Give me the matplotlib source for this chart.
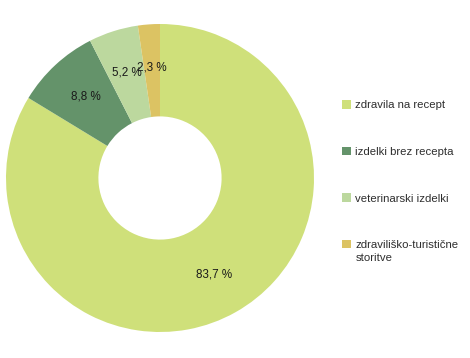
import numpy as np
import matplotlib.pyplot as plt
from matplotlib.patches import Patch, Rectangle
from matplotlib.legend_handler import HandlerPatch

categories = ["zdravila na recept", "izdelki brez recepta",
              "veterinarski izdelki", "zdraviliško-turistične\nstoritve"]
shares = [83.7, 8.8, 5.2, 2.3]
colors = ["#cfe07a", "#64936a", "#bcd89e", "#dcc363"]

plt.rcParams["font.family"] = ["Liberation Sans", "DejaVu Sans"]

fig = plt.figure(figsize=(4.70, 3.58), dpi=100)
ax = fig.add_axes([6 / 470, 26 / 358, 308 / 470, 308 / 358])

labels_txt = [f"{v:.1f} %".replace(".", ",") for v in shares]
wedges, _ = ax.pie(shares, colors=colors, startangle=90, counterclock=False,
                   radius=1, wedgeprops=dict(width=0.6, linewidth=0))

# value labels at 0.7 of the radius, middle angle of each wedge
for w, t in zip(wedges, labels_txt):
    ang = np.deg2rad((w.theta1 + w.theta2) / 2)
    ax.text(0.71 * np.cos(ang), 0.72 * np.sin(ang), t, ha="center",
            va="center", fontsize=8.4, color="#1a1a1a")

ax.set_xlim(-1, 1)
ax.set_ylim(-1, 1)


class FirstLineHandler(HandlerPatch):
    # put the square next to the first line of a two-line label
    def __init__(self, shift):
        super().__init__()
        self.shift = shift

    def create_artists(self, legend, orig_handle, xdescent, ydescent,
                       width, height, fontsize, trans):
        r = Rectangle((-xdescent, -ydescent + self.shift * fontsize),
                      width, height, facecolor=orig_handle.get_facecolor(),
                      edgecolor="none", transform=trans)
        return [r]


handles = [Patch(facecolor=c, edgecolor="none") for c in colors]
hmap = {handles[-1]: FirstLineHandler(0.66)}
leg = fig.legend(handles, categories, loc="upper left", handler_map=hmap,
                 bbox_to_anchor=(332 / 470, 1 - 90 / 358), frameon=False,
                 fontsize=8.2, labelspacing=3.2, handlelength=0.75,
                 handleheight=0.75, handletextpad=0.4, labelcolor="#2e2e2e")
for t in leg.get_texts():
    t.set_linespacing(1.42)

fig.savefig("out.png", dpi=100)
